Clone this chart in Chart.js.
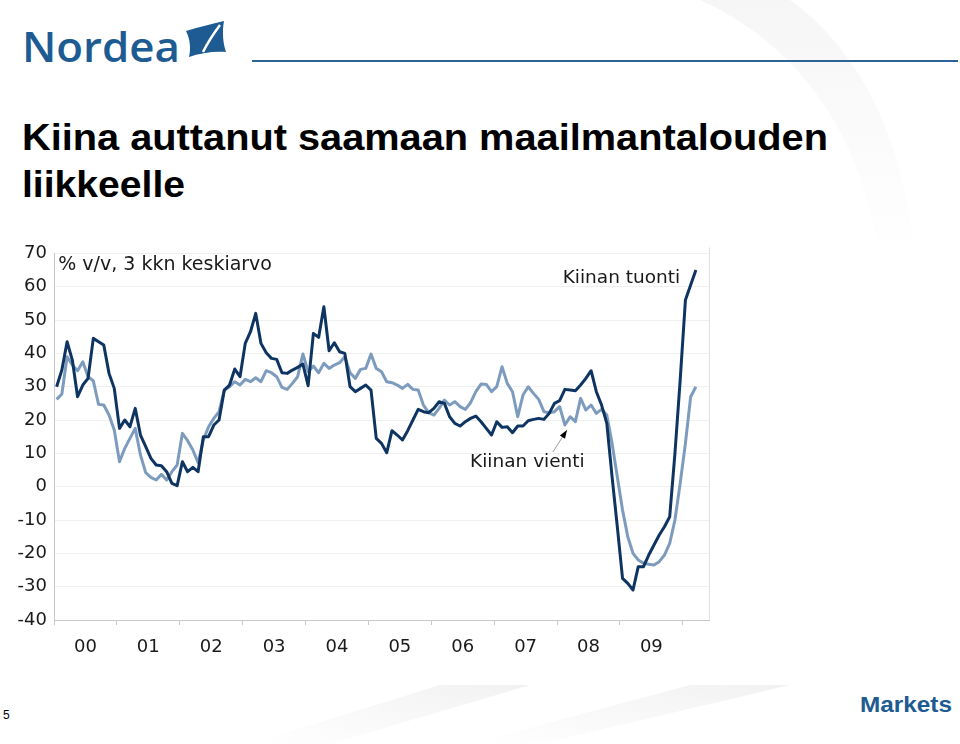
<!DOCTYPE html>
<html>
<head>
<meta charset="utf-8">
<script src="https://cdn.jsdelivr.net/npm/chart.js@4.4.0/dist/chart.umd.min.js"></script>
<style>
    html, body { margin: 0; padding: 0; background: #fff; }
    #page { position: relative; width: 960px; height: 744px; overflow: hidden; }
    #deco { position: absolute; left: 0; top: 0; }
    #wrap { position: absolute; left: 0; top: 230px; width: 720px; height: 440px; }
</style>
</head>
<body>
<div id="page">
    <svg id="deco" width="960" height="744" viewBox="0 0 960 744">
        <defs>
            <linearGradient id="fadeA" x1="0" y1="1" x2="1" y2="0">
                <stop offset="0" stop-color="#ffffff"/>
                <stop offset="1" stop-color="#ececec"/>
            </linearGradient>
            <linearGradient id="fadeB" x1="0" y1="0" x2="0" y2="1">
                <stop offset="0" stop-color="#f2f2f2"/>
                <stop offset="1" stop-color="#ffffff"/>
            </linearGradient>
        </defs>
        <!-- faint background swooshes -->
        <path d="M700,0 C810,50 865,150 880,260 L915,260 C905,140 860,50 790,0 Z" fill="url(#fadeB)" opacity="0.7"/>
        <polygon points="330,744 250,744 440,685 530,685" fill="url(#fadeA)" opacity="0.7"/>
        <polygon points="540,744 470,744 690,685 790,685" fill="url(#fadeA)" opacity="0.7"/>

        <!-- logo -->
        <text x="22" y="62" font-family="Open Sans" font-weight="600" font-size="42" fill="#1d5b92"
              textLength="158" lengthAdjust="spacingAndGlyphs">Nordea</text>
        <path d="M186,31 C198,27 212,24 224,21 C222,32 223,43 226,52 C214,51 200,53 189,57 C191,48 190,39 186,31 Z" fill="#1d5b92"/>
        <path d="M203,52 C208,42 214,33 220,25" stroke="#fff" stroke-width="2.5" fill="none"/>
        <line x1="252" y1="61" x2="958" y2="61" stroke="#2b6597" stroke-width="2"/>

        <!-- title -->
        <text x="22" y="150" font-family="Liberation Sans" font-weight="700" font-size="36" fill="#000"
              textLength="806" lengthAdjust="spacingAndGlyphs">Kiina auttanut saamaan maailmantalouden</text>
        <text x="22" y="197" font-family="Liberation Sans" font-weight="700" font-size="36" fill="#000"
              textLength="163" lengthAdjust="spacingAndGlyphs">liikkeelle</text>

        <!-- footer -->
        <text x="3" y="719" font-family="Liberation Sans" font-size="12" fill="#000">5</text>
        <text x="860" y="712" font-family="Liberation Sans" font-weight="700" font-size="22" fill="#1d5b92"
              textLength="92" lengthAdjust="spacingAndGlyphs">Markets</text>
    </svg>
    <div id="wrap"><canvas id="chart"></canvas></div>
</div>
<script>
"use strict";

// monthly, 3-month average, % y/y, from Jan 2000
const yearLabels = ['00', '01', '02', '03', '04', '05', '06', '07', '08', '09'];

const imports = [
    30, 35, 43.5, 38, 27, 30.5, 32.5, 44.5, 43.5, 42.5,
    34, 29.5, 17.5, 20, 18, 23.5, 15.5, 12, 8.5, 6.5,
    6.3, 4.5, 1, 0.3, 7.5, 4.5, 5.8, 4.5, 15, 15,
    18.5, 20, 29, 30.5, 35.3, 33, 43, 46.5, 52, 43,
    40.2, 38.5, 38.2, 34.2, 34, 35, 35.8, 36.8, 30.3, 46,
    44.8, 54, 40.8, 43.2, 40.5, 40, 30, 28.5, 29.5, 30.5,
    29, 14.5, 13, 10.2, 16.8, 15.5, 14, 16.8, 20, 23.2,
    22.5, 22.2, 23.5, 25.5, 25, 21, 19, 18.2, 19.5, 20.5,
    21.2, 19.5, 17.5, 15.5, 19.5, 17.8, 18, 16.2, 18.2, 18.2,
    19.8, 20.2, 20.5, 20.2, 22, 25, 25.8, 29.2, 29, 28.8,
    30.5, 32.5, 34.8, 28.5, 24.5, 19, 3, -12, -27.5, -29,
    -31, -24, -24, -20.5, -17.5, -14.5, -12, -9, 10, 32,
    56, 60.5, 65
];

const exports = [
    26.2, 27.8, 39, 36.5, 34.8, 37.5, 33, 31.8, 24.7, 24.5,
    21.5, 17, 7.5, 11.5, 14.5, 17.5, 9.5, 4.2, 2.8, 2,
    3.7, 2, 4.5, 6.5, 16, 13.8, 11, 7.2, 14, 18,
    20.5, 22.5, 29, 30, 31.5, 30.5, 32.2, 31.5, 32.7, 31.5,
    34.8, 34.2, 33, 29.8, 29.2, 31, 33, 39.8, 34.5, 36.2,
    34.2, 37, 35.5, 36.5, 37.2, 39, 34.2, 32.5, 35.2, 35.5,
    39.8, 35.5, 34.5, 31.5, 31.2, 30.5, 29.5, 30.7, 29.2, 29,
    24.5, 22.2, 21.5, 23.5, 26, 24.5, 25.5, 24, 23.2, 25.2,
    28.5, 30.8, 30.7, 28.5, 30, 36, 31, 28.5, 21, 27.5,
    30, 28, 26.2, 22.5, 22.2, 22.5, 24, 18.5, 21, 19.5,
    26.5, 23, 24.5, 22, 23.2, 21.5, 13, 3, -7, -15,
    -20, -22, -23, -23.3, -23.5, -22.5, -20.5, -17, -10, 1,
    13, 27, 30
];

const unitLabel = '% v/v, 3 kkn keskiarvo';
const importsLabel = 'Kiinan tuonti';
const exportsLabel = 'Kiinan vienti';

const FONT = '"DejaVu Sans", Verdana, sans-serif';

// month index -> point in the middle of the month
const toPoints = arr => arr.map((v, i) => ({x: i + 0.5, y: v}));

const notes = {
    id: 'notes',
    afterDraw(chart) {
        const {ctx, chartArea: area, scales: {x, y}} = chart;
        ctx.save();

        // right edge of the plot frame
        ctx.strokeStyle = '#e2e2e2';
        ctx.lineWidth = 1;
        ctx.beginPath();
        ctx.moveTo(area.right + 0.5, area.top - 6);
        ctx.lineTo(area.right + 0.5, area.bottom);
        ctx.stroke();

        ctx.fillStyle = '#1a1a1a';
        ctx.textBaseline = 'alphabetic';

        ctx.font = '19px ' + FONT;
        ctx.textAlign = 'left';
        ctx.fillText(unitLabel, x.getPixelForValue(0.8), y.getPixelForValue(65));

        ctx.font = '18.5px ' + FONT;
        ctx.textAlign = 'right';
        ctx.fillText(importsLabel, x.getPixelForValue(119.5), y.getPixelForValue(61));

        ctx.textAlign = 'left';
        ctx.fillText(exportsLabel, x.getPixelForValue(79.4), y.getPixelForValue(6));

        // arrow to the exports line
        const x0 = x.getPixelForValue(95.2), y0 = y.getPixelForValue(10.4),
            x1 = x.getPixelForValue(97.9), y1 = y.getPixelForValue(17),
            a = Math.atan2(y1 - y0, x1 - x0);
        ctx.strokeStyle = '#9a9a9a';
        ctx.beginPath();
        ctx.moveTo(x0, y0);
        ctx.lineTo(x1, y1);
        ctx.stroke();
        ctx.fillStyle = '#000';
        ctx.beginPath();
        ctx.moveTo(x1, y1);
        ctx.lineTo(x1 - 9 * Math.cos(a - 0.35), y1 - 9 * Math.sin(a - 0.35));
        ctx.lineTo(x1 - 9 * Math.cos(a + 0.35), y1 - 9 * Math.sin(a + 0.35));
        ctx.closePath();
        ctx.fill();
        ctx.restore();
    }
};

new Chart(document.getElementById('chart'), {
    type: 'line',
    data: {
        datasets: [
            {
                label: importsLabel,
                data: toPoints(imports),
                borderColor: '#0e3462',
                borderWidth: 3,
                pointRadius: 0,
                tension: 0,
                borderJoinStyle: 'round'
            },
            {
                label: exportsLabel,
                data: toPoints(exports),
                borderColor: '#7d9cbd',
                borderWidth: 3,
                pointRadius: 0,
                tension: 0,
                borderJoinStyle: 'round'
            }
        ]
    },
    options: {
        responsive: true,
        maintainAspectRatio: false,
        animation: false,
        layout: {padding: {top: 23.4, right: 11, left: 0, bottom: 0}},
        plugins: {legend: {display: false}, tooltip: {enabled: false}},
        scales: {
            x: {
                type: 'linear',
                min: 0,
                max: 125,
                afterBuildTicks: scale => {
                    const t = [];
                    for (let v = 0; v <= 120; v += 6) t.push({value: v});
                    scale.ticks = t;
                },
                afterFit: scale => { scale.height = 50; },
                ticks: {
                    autoSkip: false,
                    maxRotation: 0,
                    padding: 12,
                    color: '#1a1a1a',
                    font: {family: FONT, size: 18},
                    callback: v => v % 12 === 6 ? yearLabels[(v - 6) / 12] : ''
                },
                grid: {
                    drawOnChartArea: false,
                    tickLength: 5,
                    color: c => c.tick && c.tick.value % 12 === 0 ? '#c8c8c8' : 'rgba(0,0,0,0)'
                },
                border: {color: '#c8c8c8', width: 1}
            },
            y: {
                min: -40,
                max: 70,
                afterFit: scale => { scale.width = 54; },
                ticks: {
                    stepSize: 10,
                    padding: 7,
                    color: '#1a1a1a',
                    font: {family: FONT, size: 18}
                },
                grid: {
                    drawTicks: false,
                    color: '#f0f0f0'
                },
                border: {color: '#c8c8c8', width: 1}
            }
        }
    },
    plugins: [notes]
});
</script>
</body>
</html>
